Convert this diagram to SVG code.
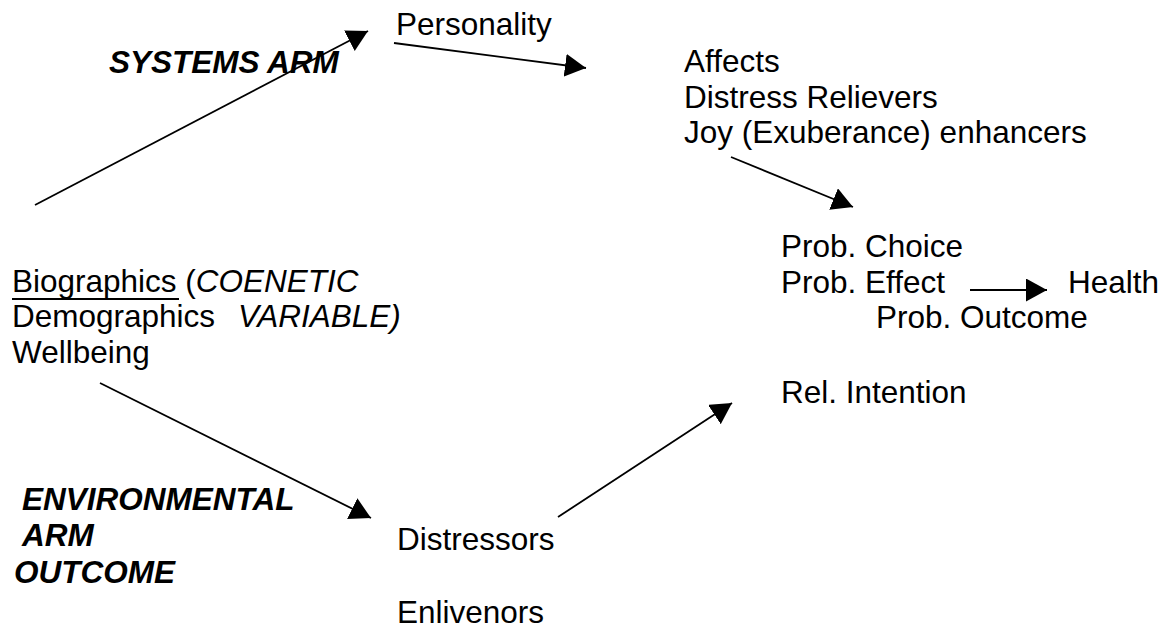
<svg xmlns="http://www.w3.org/2000/svg" width="1164" height="628" viewBox="0 0 1164 628">
<style>
.t{font-family:"Liberation Sans",Arial,sans-serif;font-size:31.5px;fill:#000}
.bi{font-weight:bold;font-style:italic}
.i{font-style:italic}
.c{stroke:#000;stroke-width:1.8;fill:none}
</style>
<defs>
<marker id="ah" markerUnits="userSpaceOnUse" markerWidth="23" markerHeight="24" refX="21" refY="11.5" orient="auto">
<path d="M0,0 L21,11.5 L0,23 z" fill="#000"/>
</marker>
</defs>
<rect width="1164" height="628" fill="#fff"/>
<g id="systems-arm"><text class="t bi" x="109" y="73">SYSTEMS ARM</text></g>
<g id="personality"><text class="t" x="396" y="35">Personality</text></g>
<g id="affects">
<text class="t" x="684" y="72">Affects</text>
<text class="t" x="684" y="108">Distress Relievers</text>
<text class="t" x="684" y="143">Joy (Exuberance) enhancers</text>
</g>
<g id="prob">
<text class="t" x="781" y="257">Prob. Choice</text>
<text class="t" x="781" y="293">Prob. Effect</text>
<text class="t" x="876" y="328">Prob. Outcome</text>
</g>
<g id="health"><text class="t" x="1068" y="293">Health</text></g>
<g id="rel-intention"><text class="t" x="781" y="403">Rel. Intention</text></g>
<g id="biographics">
<text class="t" x="12" y="292">Biographics (<tspan class="i">COENETIC</tspan></text>
<line x1="12" y1="299" x2="179" y2="299" stroke="#000" stroke-width="2"/>
<text class="t" x="12" y="327">Demographics<tspan class="i" x="238">VARIABLE)</tspan></text>
<text class="t" x="12" y="363">Wellbeing</text>
</g>
<g id="environmental-arm">
<text class="t bi" x="22" y="510">ENVIRONMENTAL</text>
<text class="t bi" x="22" y="546">ARM</text>
<text class="t bi" x="14" y="583">OUTCOME</text>
</g>
<g id="distressors">
<text class="t" x="397" y="550">Distressors</text>
<text class="t" x="397" y="623">Enlivenors</text>
</g>
<g id="connectors">
<line class="c" x1="35" y1="205" x2="368" y2="31" marker-end="url(#ah)"/>
<line class="c" x1="394" y1="43" x2="586" y2="68" marker-end="url(#ah)"/>
<line class="c" x1="731" y1="157" x2="853" y2="207" marker-end="url(#ah)"/>
<line class="c" x1="970" y1="290" x2="1047" y2="290" marker-end="url(#ah)"/>
<line class="c" x1="100" y1="383" x2="371" y2="518" marker-end="url(#ah)"/>
<line class="c" x1="558" y1="517" x2="732" y2="403" marker-end="url(#ah)"/>
</g>
</svg>
